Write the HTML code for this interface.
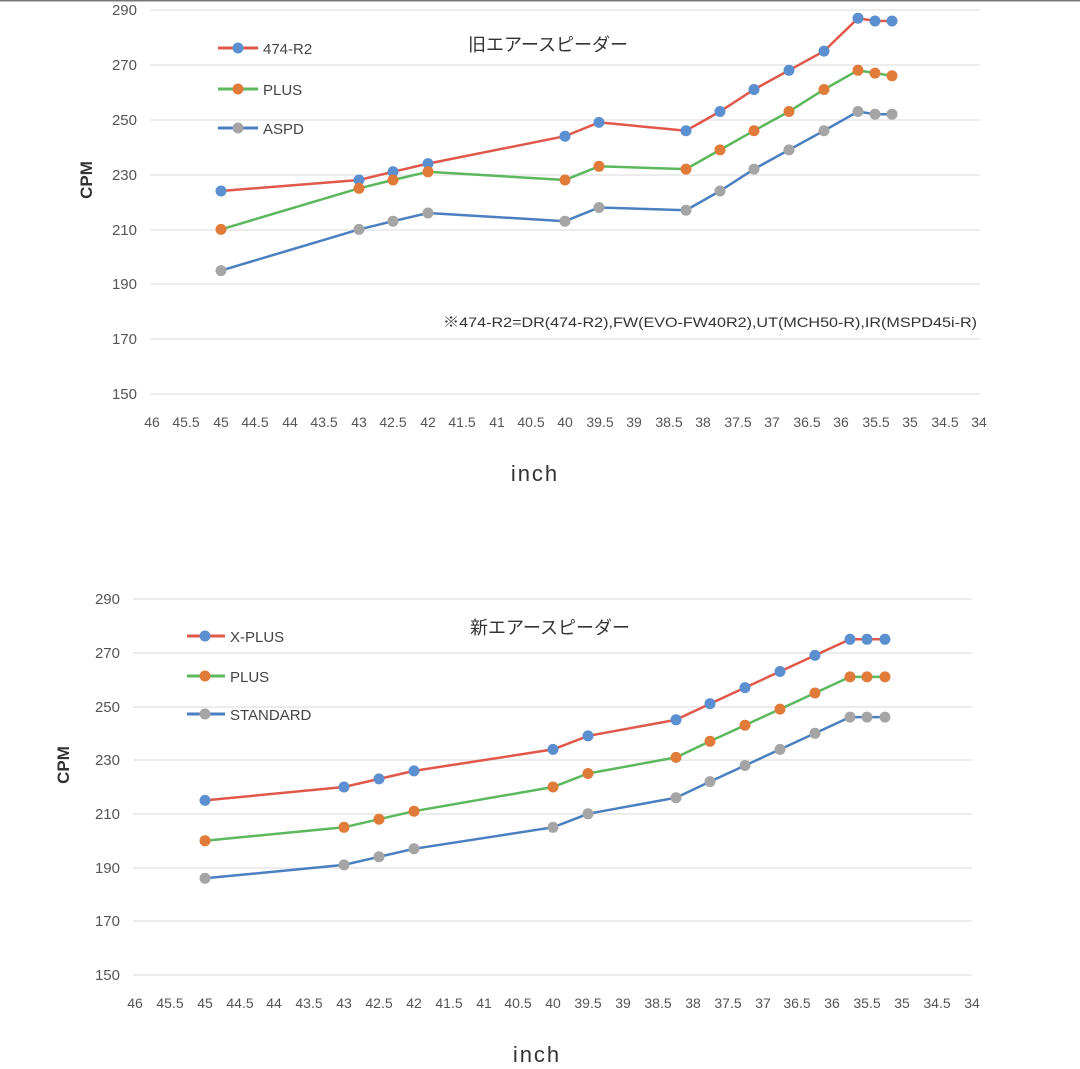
<!DOCTYPE html>
<html><head><meta charset="utf-8"><style>
html,body{margin:0;padding:0;background:#fff;width:1080px;height:1069px;overflow:hidden}
svg text{font-family:"Liberation Sans","Noto Sans CJK JP",sans-serif;fill:#555}
</style></head><body>
<svg width="1080" height="1069" viewBox="0 0 1080 1069" xmlns="http://www.w3.org/2000/svg">
<rect width="1080" height="1069" fill="#fff"/>
<line x1="0" y1="0.5" x2="1080" y2="0.5" stroke="#777" stroke-width="2"/>
<g stroke="#e6e6e6" stroke-width="1.5">
<line x1="150" y1="10" x2="980" y2="10"/><line x1="150" y1="65" x2="980" y2="65"/><line x1="150" y1="120" x2="980" y2="120"/><line x1="150" y1="175" x2="980" y2="175"/><line x1="150" y1="230" x2="980" y2="230"/><line x1="150" y1="284" x2="980" y2="284"/><line x1="150" y1="339" x2="980" y2="339"/><line x1="150" y1="394" x2="980" y2="394"/>
</g>
<g font-size="15" text-anchor="end">
<text x="137" y="15">290</text><text x="137" y="70">270</text><text x="137" y="125">250</text><text x="137" y="180">230</text><text x="137" y="235">210</text><text x="137" y="289">190</text><text x="137" y="344">170</text><text x="137" y="399">150</text>
</g>
<g font-size="14" text-anchor="middle">
<text x="152" y="427">46</text><text x="186" y="427">45.5</text><text x="221" y="427">45</text><text x="255" y="427">44.5</text><text x="290" y="427">44</text><text x="324" y="427">43.5</text><text x="359" y="427">43</text><text x="393" y="427">42.5</text><text x="428" y="427">42</text><text x="462" y="427">41.5</text><text x="497" y="427">41</text><text x="531" y="427">40.5</text><text x="565" y="427">40</text><text x="600" y="427">39.5</text><text x="634" y="427">39</text><text x="669" y="427">38.5</text><text x="703" y="427">38</text><text x="738" y="427">37.5</text><text x="772" y="427">37</text><text x="807" y="427">36.5</text><text x="841" y="427">36</text><text x="876" y="427">35.5</text><text x="910" y="427">35</text><text x="945" y="427">34.5</text><text x="979" y="427">34</text>
</g>
<text x="535" y="481" font-size="22" text-anchor="middle" letter-spacing="2" style="fill:#333">inch</text>
<text transform="translate(92,180) rotate(-90)" font-size="17" font-weight="bold" text-anchor="middle" style="fill:#333">CPM</text>
<text x="548" y="51" font-size="18" text-anchor="middle" style="fill:#333">旧エアースピーダー</text>
<text x="443" y="327" font-size="14" textLength="534" lengthAdjust="spacingAndGlyphs" style="fill:#333">※474-R2=DR(474-R2),FW(EVO-FW40R2),UT(MCH50-R),IR(MSPD45i-R)</text>
<line x1="218" y1="48" x2="258" y2="48" stroke="#e0584a" stroke-width="3"/><circle cx="238" cy="48" r="5.5" fill="#5b8fd0"/><text x="263" y="54" font-size="15" style="fill:#444">474-R2</text>
<line x1="218" y1="89" x2="258" y2="89" stroke="#5cb85c" stroke-width="3"/><circle cx="238" cy="89" r="5.5" fill="#e07b39"/><text x="263" y="95" font-size="15" style="fill:#444">PLUS</text>
<line x1="218" y1="128" x2="258" y2="128" stroke="#4a7fc0" stroke-width="3"/><circle cx="238" cy="128" r="5.5" fill="#a5a5a5"/><text x="263" y="134" font-size="15" style="fill:#444">ASPD</text>
<g fill="none" stroke-width="2.5">
<polyline stroke="#e0584a" points="221,191 359,180 393,171.8 428,163.6 565,136.2 599,122.4 686,130.7 720,111.5 754,89.5 789,70.3 824,51.1 858,18.2 875,21 892,21"/>
<polyline stroke="#5cb85c" points="221,229.4 359,188.3 393,180 428,171.8 565,180 599,166.3 686,169.1 720,149.9 754,130.7 789,111.5 824,89.5 858,70.3 875,73.1 892,75.8"/>
<polyline stroke="#4a7fc0" points="221,270.6 359,229.4 393,221.2 428,213 565,221.2 599,207.5 686,210.2 720,191 754,169.1 789,149.9 824,130.7 858,111.5 875,114.2 892,114.2"/>
</g>
<g fill="#5b8fd0"><circle cx="221" cy="191" r="5.5"/><circle cx="359" cy="180" r="5.5"/><circle cx="393" cy="171.8" r="5.5"/><circle cx="428" cy="163.6" r="5.5"/><circle cx="565" cy="136.2" r="5.5"/><circle cx="599" cy="122.4" r="5.5"/><circle cx="686" cy="130.7" r="5.5"/><circle cx="720" cy="111.5" r="5.5"/><circle cx="754" cy="89.5" r="5.5"/><circle cx="789" cy="70.3" r="5.5"/><circle cx="824" cy="51.1" r="5.5"/><circle cx="858" cy="18.2" r="5.5"/><circle cx="875" cy="21" r="5.5"/><circle cx="892" cy="21" r="5.5"/></g>
<g fill="#e07b39"><circle cx="221" cy="229.4" r="5.5"/><circle cx="359" cy="188.3" r="5.5"/><circle cx="393" cy="180" r="5.5"/><circle cx="428" cy="171.8" r="5.5"/><circle cx="565" cy="180" r="5.5"/><circle cx="599" cy="166.3" r="5.5"/><circle cx="686" cy="169.1" r="5.5"/><circle cx="720" cy="149.9" r="5.5"/><circle cx="754" cy="130.7" r="5.5"/><circle cx="789" cy="111.5" r="5.5"/><circle cx="824" cy="89.5" r="5.5"/><circle cx="858" cy="70.3" r="5.5"/><circle cx="875" cy="73.1" r="5.5"/><circle cx="892" cy="75.8" r="5.5"/></g>
<g fill="#a5a5a5"><circle cx="221" cy="270.6" r="5.5"/><circle cx="359" cy="229.4" r="5.5"/><circle cx="393" cy="221.2" r="5.5"/><circle cx="428" cy="213" r="5.5"/><circle cx="565" cy="221.2" r="5.5"/><circle cx="599" cy="207.5" r="5.5"/><circle cx="686" cy="210.2" r="5.5"/><circle cx="720" cy="191" r="5.5"/><circle cx="754" cy="169.1" r="5.5"/><circle cx="789" cy="149.9" r="5.5"/><circle cx="824" cy="130.7" r="5.5"/><circle cx="858" cy="111.5" r="5.5"/><circle cx="875" cy="114.2" r="5.5"/><circle cx="892" cy="114.2" r="5.5"/></g>

<g stroke="#e6e6e6" stroke-width="1.5">
<line x1="133" y1="599" x2="972" y2="599"/><line x1="133" y1="653" x2="972" y2="653"/><line x1="133" y1="707" x2="972" y2="707"/><line x1="133" y1="760" x2="972" y2="760"/><line x1="133" y1="814" x2="972" y2="814"/><line x1="133" y1="868" x2="972" y2="868"/><line x1="133" y1="921" x2="972" y2="921"/><line x1="133" y1="975" x2="972" y2="975"/>
</g>
<g font-size="15" text-anchor="end">
<text x="120" y="604">290</text><text x="120" y="658">270</text><text x="120" y="712">250</text><text x="120" y="765">230</text><text x="120" y="819">210</text><text x="120" y="873">190</text><text x="120" y="926">170</text><text x="120" y="980">150</text>
</g>
<g font-size="14" text-anchor="middle">
<text x="135" y="1008">46</text><text x="170" y="1008">45.5</text><text x="205" y="1008">45</text><text x="240" y="1008">44.5</text><text x="274" y="1008">44</text><text x="309" y="1008">43.5</text><text x="344" y="1008">43</text><text x="379" y="1008">42.5</text><text x="414" y="1008">42</text><text x="449" y="1008">41.5</text><text x="484" y="1008">41</text><text x="518" y="1008">40.5</text><text x="553" y="1008">40</text><text x="588" y="1008">39.5</text><text x="623" y="1008">39</text><text x="658" y="1008">38.5</text><text x="693" y="1008">38</text><text x="728" y="1008">37.5</text><text x="763" y="1008">37</text><text x="797" y="1008">36.5</text><text x="832" y="1008">36</text><text x="867" y="1008">35.5</text><text x="902" y="1008">35</text><text x="937" y="1008">34.5</text><text x="972" y="1008">34</text>
</g>
<text x="537" y="1062" font-size="22" text-anchor="middle" letter-spacing="2" style="fill:#333">inch</text>
<text transform="translate(69,765) rotate(-90)" font-size="17" font-weight="bold" text-anchor="middle" style="fill:#333">CPM</text>
<text x="550" y="634" font-size="18" text-anchor="middle" style="fill:#333">新エアースピーダー</text>
<line x1="187" y1="636" x2="225" y2="636" stroke="#e0584a" stroke-width="3"/><circle cx="205" cy="636" r="5.5" fill="#5b8fd0"/><text x="230" y="642" font-size="15" style="fill:#444">X-PLUS</text>
<line x1="187" y1="676" x2="225" y2="676" stroke="#5cb85c" stroke-width="3"/><circle cx="205" cy="676" r="5.5" fill="#e07b39"/><text x="230" y="682" font-size="15" style="fill:#444">PLUS</text>
<line x1="187" y1="714" x2="225" y2="714" stroke="#4a7fc0" stroke-width="3"/><circle cx="205" cy="714" r="5.5" fill="#a5a5a5"/><text x="230" y="720" font-size="15" style="fill:#444">STANDARD</text>
<g fill="none" stroke-width="2.5">
<polyline stroke="#e0584a" points="205,800.4 344,787 379,778.9 414,770.9 553,749.4 588,735.9 676,719.8 710,703.7 745,687.6 780,671.5 815,655.4 850,639.3 867,639.3 885,639.3"/>
<polyline stroke="#5cb85c" points="205,840.7 344,827.3 379,819.2 414,811.2 553,787 588,773.5 676,757.4 710,741.3 745,725.2 780,709.1 815,693 850,676.9 867,676.9 885,676.9"/>
<polyline stroke="#4a7fc0" points="205,878.3 344,864.9 379,856.8 414,848.8 553,827.3 588,813.8 676,797.7 710,781.6 745,765.5 780,749.4 815,733.3 850,717.1 867,717.1 885,717.1"/>
</g>
<g fill="#5b8fd0"><circle cx="205" cy="800.4" r="5.5"/><circle cx="344" cy="787" r="5.5"/><circle cx="379" cy="778.9" r="5.5"/><circle cx="414" cy="770.9" r="5.5"/><circle cx="553" cy="749.4" r="5.5"/><circle cx="588" cy="735.9" r="5.5"/><circle cx="676" cy="719.8" r="5.5"/><circle cx="710" cy="703.7" r="5.5"/><circle cx="745" cy="687.6" r="5.5"/><circle cx="780" cy="671.5" r="5.5"/><circle cx="815" cy="655.4" r="5.5"/><circle cx="850" cy="639.3" r="5.5"/><circle cx="867" cy="639.3" r="5.5"/><circle cx="885" cy="639.3" r="5.5"/></g>
<g fill="#e07b39"><circle cx="205" cy="840.7" r="5.5"/><circle cx="344" cy="827.3" r="5.5"/><circle cx="379" cy="819.2" r="5.5"/><circle cx="414" cy="811.2" r="5.5"/><circle cx="553" cy="787" r="5.5"/><circle cx="588" cy="773.5" r="5.5"/><circle cx="676" cy="757.4" r="5.5"/><circle cx="710" cy="741.3" r="5.5"/><circle cx="745" cy="725.2" r="5.5"/><circle cx="780" cy="709.1" r="5.5"/><circle cx="815" cy="693" r="5.5"/><circle cx="850" cy="676.9" r="5.5"/><circle cx="867" cy="676.9" r="5.5"/><circle cx="885" cy="676.9" r="5.5"/></g>
<g fill="#a5a5a5"><circle cx="205" cy="878.3" r="5.5"/><circle cx="344" cy="864.9" r="5.5"/><circle cx="379" cy="856.8" r="5.5"/><circle cx="414" cy="848.8" r="5.5"/><circle cx="553" cy="827.3" r="5.5"/><circle cx="588" cy="813.8" r="5.5"/><circle cx="676" cy="797.7" r="5.5"/><circle cx="710" cy="781.6" r="5.5"/><circle cx="745" cy="765.5" r="5.5"/><circle cx="780" cy="749.4" r="5.5"/><circle cx="815" cy="733.3" r="5.5"/><circle cx="850" cy="717.1" r="5.5"/><circle cx="867" cy="717.1" r="5.5"/><circle cx="885" cy="717.1" r="5.5"/></g>
</svg>
</body></html>
